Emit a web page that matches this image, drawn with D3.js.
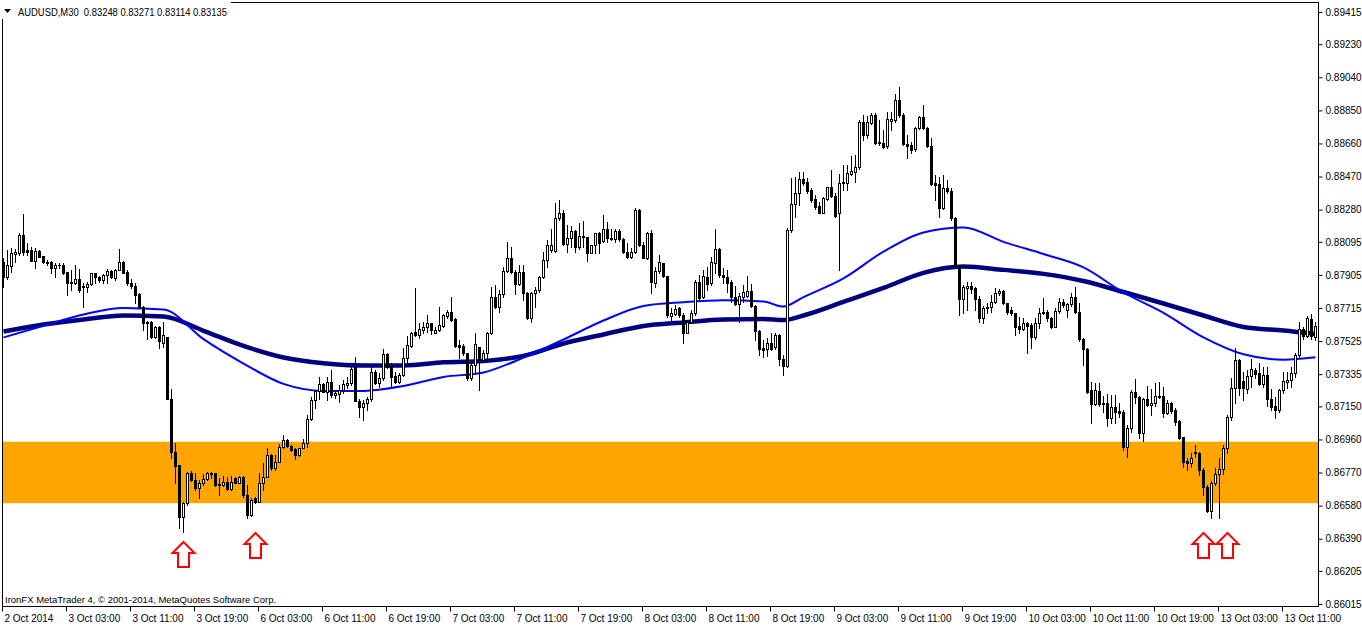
<!DOCTYPE html>
<html><head><meta charset="utf-8">
<script src="https://cdn.jsdelivr.net/npm/d3@7"></script>
<style>
html,body{margin:0;padding:0;background:#fff;}
svg{display:block;}
text{font-family:"Liberation Sans",Arial,sans-serif;fill:#000;}
</style></head><body>
<svg id="chart" width="1362" height="626"></svg>
<script>
const symbolTitle = "AUDUSD,M30  0.83248 0.83271 0.83114 0.83135";
const copyright = "IronFX MetaTrader 4, \u00A9 2001-2014, MetaQuotes Software Corp.";

const opens = [
0.87979,0.87894,0.87956,0.88025,0.88031,0.88134,0.88048,0.88048,0.87985,0.88042,
0.88014,0.87979,0.87979,0.87945,0.87962,0.87962,0.87922,0.87865,0.87859,0.87882,
0.87842,0.87836,0.87853,0.87917,0.87894,0.87876,0.87905,0.87928,0.87888,0.87934,
0.87979,0.87922,0.87859,0.87842,0.87796,0.87721,0.87635,0.87635,0.87548,0.87606,
0.87514,0.87548,0.87193,0.86888,0.86814,0.86515,0.86596,0.86768,0.86727,0.86681,
0.86710,0.86733,0.86768,0.86768,0.86704,0.86699,0.86716,0.86675,0.86739,0.86710,
0.86745,0.86641,0.86526,0.86624,0.86601,0.86710,0.86745,0.86871,0.86796,0.86831,
0.86917,0.86957,0.86923,0.86905,0.86871,0.86911,0.86940,0.87078,0.87187,0.87239,
0.87279,0.87233,0.87290,0.87215,0.87221,0.87244,0.87273,0.87285,0.87376,0.87181,
0.87147,0.87170,0.87193,0.87348,0.87285,0.87313,0.87451,0.87376,0.87325,0.87290,
0.87331,0.87428,0.87497,0.87577,0.87560,0.87589,0.87606,0.87629,0.87572,0.87589,
0.87612,0.87670,0.87692,0.87652,0.87502,0.87497,0.87457,0.87313,0.87388,0.87491,
0.87417,0.87457,0.87572,0.87778,0.87721,0.87796,0.87928,0.88002,0.87922,0.87853,
0.87922,0.87801,0.87658,0.87801,0.87819,0.87894,0.87991,0.88048,0.88042,0.88232,
0.88261,0.88083,0.88117,0.88157,0.88066,0.88129,0.88123,0.88031,0.88078,0.88146,
0.88100,0.88169,0.88117,0.88112,0.88157,0.88112,0.88037,0.88008,0.88037,0.88278,
0.88078,0.88002,0.88146,0.87859,0.87928,0.87974,0.87900,0.87670,0.87681,0.87715,
0.87675,0.87572,0.87635,0.87687,0.87865,0.87778,0.87894,0.87859,0.87974,0.88054,
0.87905,0.87894,0.87865,0.87778,0.87738,0.87778,0.87784,0.87813,0.87727,0.87583,
0.87485,0.87480,0.87514,0.87491,0.87560,0.87422,0.87382,0.88163,0.88313,0.88376,
0.88456,0.88439,0.88393,0.88341,0.88301,0.88261,0.88341,0.88409,0.88359,0.88261,
0.88433,0.88433,0.88485,0.88497,0.88525,0.88784,0.88710,0.88778,0.88824,0.88669,
0.88663,0.88646,0.88789,0.88795,0.88910,0.88824,0.88657,0.88651,0.88628,0.88749,
0.88812,0.88749,0.88646,0.88433,0.88427,0.88290,0.88404,0.88387,0.88232,0.87956,
0.87767,0.87830,0.87842,0.87830,0.87767,0.87658,0.87715,0.87721,0.87750,0.87801,
0.87813,0.87744,0.87704,0.87687,0.87612,0.87595,0.87629,0.87618,0.87548,0.87629,
0.87687,0.87692,0.87658,0.87606,0.87698,0.87750,0.87704,0.87738,0.87778,0.87692,
0.87537,0.87480,0.87244,0.87164,0.87239,0.87170,0.87170,0.87084,0.87147,0.87124,
0.87118,0.86917,0.87026,0.87233,0.87204,0.86997,0.87193,0.87158,0.87170,0.87209,
0.87209,0.87112,0.87170,0.87129,0.87066,0.86974,0.86837,0.86825,0.86888,0.86882,
0.86785,0.86687,0.86549,0.86710,0.86762,0.86790,0.86911,0.87090,0.87256,0.87417,
0.87296,0.87250,0.87325,0.87359,0.87342,0.87279,0.87331,0.87193,0.87152,0.87129,
0.87244,0.87290,0.87302,0.87342,0.87445,0.87595,0.87554,0.87652,0.87548];

const highs = [
0.88002,0.88048,0.88060,0.88054,0.88146,0.88255,0.88089,0.88066,0.88060,0.88048,
0.88014,0.87991,0.87985,0.87974,0.87974,0.87974,0.87922,0.87934,0.87962,0.87940,
0.87859,0.87865,0.87917,0.87917,0.87900,0.87911,0.87940,0.87934,0.87940,0.88054,
0.87985,0.87934,0.87882,0.87859,0.87801,0.87727,0.87640,0.87640,0.87612,0.87612,
0.87635,0.87548,0.87250,0.86940,0.86814,0.86601,0.86773,0.86779,0.86768,0.86727,
0.86762,0.86773,0.86773,0.86768,0.86739,0.86750,0.86745,0.86750,0.86745,0.86750,
0.86750,0.86699,0.86624,0.86630,0.86768,0.86825,0.86911,0.86877,0.86871,0.86934,
0.86986,0.86963,0.86928,0.86911,0.86911,0.86963,0.87101,0.87204,0.87244,0.87319,
0.87285,0.87319,0.87359,0.87244,0.87273,0.87302,0.87319,0.87376,0.87434,0.87193,
0.87187,0.87204,0.87376,0.87359,0.87342,0.87480,0.87457,0.87400,0.87348,0.87342,
0.87485,0.87554,0.87577,0.87830,0.87629,0.87635,0.87675,0.87629,0.87606,0.87721,
0.87681,0.87704,0.87778,0.87658,0.87531,0.87508,0.87457,0.87405,0.87572,0.87491,
0.87474,0.87577,0.87836,0.87847,0.87819,0.87951,0.88095,0.88066,0.87934,0.87962,
0.87962,0.87807,0.87807,0.87836,0.87900,0.88037,0.88106,0.88169,0.88318,0.88335,
0.88278,0.88192,0.88186,0.88163,0.88204,0.88215,0.88123,0.88078,0.88146,0.88152,
0.88249,0.88210,0.88169,0.88169,0.88169,0.88117,0.88089,0.88060,0.88290,0.88284,
0.88095,0.88152,0.88163,0.87951,0.88019,0.87974,0.87900,0.87715,0.87733,0.87721,
0.87687,0.87646,0.87704,0.87876,0.87905,0.87934,0.87951,0.88008,0.88169,0.88060,
0.87945,0.87934,0.87876,0.87842,0.87801,0.87847,0.87900,0.87853,0.87733,0.87589,
0.87531,0.87543,0.87572,0.87572,0.87566,0.87445,0.88175,0.88462,0.88468,0.88497,
0.88497,0.88462,0.88404,0.88365,0.88324,0.88353,0.88409,0.88508,0.88376,0.88485,
0.88537,0.88537,0.88588,0.88594,0.88795,0.88824,0.88818,0.88836,0.88836,0.88795,
0.88738,0.88841,0.88841,0.88945,0.88985,0.88836,0.88710,0.88669,0.88755,0.88818,
0.88881,0.88755,0.88691,0.88479,0.88468,0.88479,0.88451,0.88404,0.88238,0.87962,
0.87847,0.87865,0.87865,0.87836,0.87784,0.87727,0.87744,0.87790,0.87830,0.87825,
0.87819,0.87744,0.87721,0.87687,0.87664,0.87658,0.87635,0.87629,0.87658,0.87715,
0.87773,0.87704,0.87664,0.87715,0.87773,0.87767,0.87744,0.87801,0.87836,0.87744,
0.87543,0.87485,0.87290,0.87285,0.87285,0.87209,0.87221,0.87215,0.87215,0.87170,
0.87129,0.87043,0.87244,0.87308,0.87209,0.87198,0.87267,0.87250,0.87285,0.87290,
0.87262,0.87187,0.87175,0.87141,0.87072,0.86974,0.86854,0.86882,0.86928,0.86888,
0.86796,0.86699,0.86722,0.86796,0.86854,0.86928,0.87101,0.87313,0.87485,0.87422,
0.87348,0.87359,0.87422,0.87371,0.87400,0.87376,0.87376,0.87250,0.87204,0.87250,
0.87348,0.87348,0.87376,0.87457,0.87635,0.87606,0.87670,0.87681,0.87635];

const lows = [
0.87836,0.87882,0.87922,0.87979,0.88019,0.88019,0.88019,0.87985,0.87945,0.88008,
0.87974,0.87962,0.87917,0.87894,0.87945,0.87911,0.87790,0.87819,0.87853,0.87807,
0.87721,0.87807,0.87847,0.87859,0.87865,0.87859,0.87859,0.87888,0.87876,0.87934,
0.87917,0.87847,0.87830,0.87744,0.87721,0.87589,0.87537,0.87543,0.87543,0.87485,
0.87491,0.87193,0.86854,0.86710,0.86452,0.86429,0.86584,0.86722,0.86670,0.86624,
0.86699,0.86727,0.86739,0.86693,0.86641,0.86693,0.86670,0.86670,0.86710,0.86710,
0.86630,0.86509,0.86521,0.86596,0.86601,0.86670,0.86745,0.86785,0.86785,0.86831,
0.86911,0.86917,0.86894,0.86848,0.86865,0.86911,0.86917,0.87072,0.87141,0.87193,
0.87233,0.87187,0.87204,0.87198,0.87175,0.87227,0.87256,0.87273,0.87181,0.87090,
0.87072,0.87129,0.87181,0.87279,0.87262,0.87302,0.87371,0.87262,0.87285,0.87285,
0.87325,0.87405,0.87491,0.87554,0.87543,0.87572,0.87577,0.87566,0.87572,0.87583,
0.87606,0.87658,0.87640,0.87491,0.87428,0.87445,0.87302,0.87302,0.87348,0.87244,
0.87411,0.87417,0.87566,0.87715,0.87692,0.87778,0.87922,0.87917,0.87796,0.87847,
0.87761,0.87652,0.87635,0.87721,0.87807,0.87888,0.87951,0.88037,0.88037,0.88221,
0.88078,0.88037,0.88066,0.88037,0.88054,0.88066,0.87985,0.88031,0.88031,0.88031,
0.88095,0.88095,0.88106,0.88095,0.88100,0.88031,0.88002,0.88002,0.88031,0.88072,
0.88002,0.87997,0.87801,0.87836,0.87917,0.87894,0.87664,0.87646,0.87675,0.87664,
0.87514,0.87572,0.87629,0.87675,0.87761,0.87773,0.87819,0.87847,0.87917,0.87894,
0.87859,0.87807,0.87750,0.87733,0.87635,0.87750,0.87778,0.87721,0.87531,0.87445,
0.87434,0.87440,0.87474,0.87480,0.87388,0.87331,0.87376,0.88152,0.88238,0.88307,
0.88422,0.88376,0.88324,0.88284,0.88261,0.88261,0.88335,0.88353,0.88238,0.87934,
0.88393,0.88393,0.88479,0.88439,0.88514,0.88680,0.88691,0.88772,0.88657,0.88651,
0.88634,0.88634,0.88738,0.88784,0.88812,0.88651,0.88576,0.88606,0.88617,0.88744,
0.88744,0.88640,0.88422,0.88335,0.88238,0.88284,0.88376,0.88221,0.87945,0.87675,
0.87687,0.87704,0.87801,0.87704,0.87635,0.87629,0.87687,0.87692,0.87744,0.87790,
0.87738,0.87681,0.87675,0.87560,0.87572,0.87589,0.87457,0.87485,0.87537,0.87600,
0.87681,0.87640,0.87600,0.87606,0.87687,0.87721,0.87664,0.87727,0.87687,0.87525,
0.87388,0.87227,0.87054,0.87158,0.87152,0.87118,0.87037,0.87054,0.87054,0.87090,
0.86900,0.86859,0.87003,0.87170,0.86969,0.86951,0.87152,0.87101,0.87152,0.87198,
0.87090,0.87107,0.87112,0.87043,0.86963,0.86802,0.86785,0.86802,0.86859,0.86756,
0.86641,0.86543,0.86509,0.86699,0.86509,0.86762,0.86882,0.87072,0.87170,0.87215,
0.87187,0.87227,0.87262,0.87313,0.87273,0.87262,0.87152,0.87129,0.87084,0.87118,
0.87227,0.87256,0.87262,0.87319,0.87434,0.87537,0.87548,0.87537,0.87531];

const closes = [
0.87894,0.87962,0.88031,0.88037,0.88134,0.88037,0.88037,0.87985,0.88042,0.88008,
0.87979,0.87974,0.87945,0.87962,0.87960,0.87917,0.87859,0.87859,0.87882,0.87819,
0.87836,0.87853,0.87917,0.87894,0.87876,0.87905,0.87928,0.87894,0.87934,0.87979,
0.87917,0.87859,0.87842,0.87790,0.87721,0.87629,0.87629,0.87548,0.87606,0.87525,
0.87560,0.87193,0.86888,0.86808,0.86515,0.86596,0.86768,0.86727,0.86681,0.86710,
0.86733,0.86768,0.86762,0.86699,0.86699,0.86716,0.86675,0.86716,0.86710,0.86745,
0.86641,0.86526,0.86613,0.86601,0.86710,0.86745,0.86871,0.86796,0.86831,0.86917,
0.86957,0.86923,0.86900,0.86871,0.86911,0.86940,0.87078,0.87187,0.87239,0.87279,
0.87233,0.87290,0.87215,0.87227,0.87244,0.87279,0.87285,0.87365,0.87181,0.87147,
0.87170,0.87193,0.87348,0.87285,0.87313,0.87451,0.87376,0.87319,0.87290,0.87331,
0.87428,0.87502,0.87572,0.87560,0.87595,0.87606,0.87629,0.87589,0.87589,0.87618,
0.87675,0.87692,0.87646,0.87497,0.87491,0.87457,0.87313,0.87388,0.87508,0.87417,
0.87457,0.87572,0.87778,0.87721,0.87796,0.87928,0.88002,0.87922,0.87853,0.87922,
0.87801,0.87658,0.87801,0.87819,0.87894,0.87991,0.88078,0.88078,0.88232,0.88261,
0.88083,0.88117,0.88157,0.88066,0.88129,0.88123,0.88031,0.88078,0.88146,0.88089,
0.88169,0.88117,0.88112,0.88157,0.88112,0.88037,0.88008,0.88037,0.88278,0.88078,
0.88002,0.88146,0.87865,0.87928,0.87979,0.87900,0.87675,0.87687,0.87709,0.87675,
0.87572,0.87635,0.87687,0.87865,0.87773,0.87900,0.87853,0.87979,0.88054,0.87905,
0.87894,0.87859,0.87778,0.87738,0.87784,0.87807,0.87813,0.87727,0.87583,0.87480,
0.87474,0.87514,0.87480,0.87560,0.87422,0.87382,0.88163,0.88313,0.88376,0.88456,
0.88433,0.88387,0.88336,0.88296,0.88261,0.88347,0.88409,0.88359,0.88244,0.88433,
0.88439,0.88491,0.88502,0.88525,0.88784,0.88710,0.88784,0.88824,0.88663,0.88663,
0.88640,0.88801,0.88801,0.88910,0.88824,0.88657,0.88646,0.88623,0.88749,0.88812,
0.88749,0.88646,0.88427,0.88422,0.88290,0.88404,0.88387,0.88232,0.87956,0.87767,
0.87836,0.87842,0.87825,0.87767,0.87658,0.87715,0.87721,0.87750,0.87801,0.87813,
0.87744,0.87692,0.87687,0.87606,0.87595,0.87629,0.87612,0.87548,0.87629,0.87687,
0.87692,0.87658,0.87606,0.87698,0.87750,0.87733,0.87738,0.87778,0.87692,0.87537,
0.87480,0.87233,0.87164,0.87244,0.87164,0.87164,0.87084,0.87147,0.87118,0.87112,
0.86917,0.87026,0.87233,0.87204,0.86997,0.87193,0.87158,0.87170,0.87209,0.87204,
0.87112,0.87170,0.87124,0.87061,0.86969,0.86831,0.86825,0.86854,0.86882,0.86785,
0.86687,0.86549,0.86710,0.86762,0.86790,0.86911,0.87090,0.87256,0.87417,0.87256,
0.87256,0.87325,0.87365,0.87336,0.87279,0.87331,0.87193,0.87147,0.87129,0.87244,
0.87296,0.87302,0.87342,0.87445,0.87595,0.87554,0.87658,0.87554,0.87612];

// moving averages sampled at bar indices
const maBars = [0,10,20,30,40,50,60,70,80,90,100,110,120,130,140,150,160,170,180,190,195,200,210,220,230,240,250,260,270,280,290,300,310,320,328];
const maSlow = [0.87580,0.87620,0.87649,0.87672,0.87666,0.87584,0.87497,0.87431,0.87398,0.87385,0.87385,0.87403,0.87411,0.87440,0.87511,0.87563,0.87612,0.87632,0.87649,0.87652,0.87646,0.87672,0.87750,0.87830,0.87917,0.87953,0.87934,0.87911,0.87870,0.87807,0.87741,0.87672,0.87606,0.87586,0.87566];
const maFast = [0.87546,0.87613,0.87678,0.87715,0.87706,0.87536,0.87396,0.87279,0.87239,0.87239,0.87267,0.87319,0.87345,0.87430,0.87534,0.87643,0.87727,0.87748,0.87759,0.87752,0.87723,0.87778,0.87885,0.88039,0.88149,0.88178,0.88095,0.88025,0.87948,0.87804,0.87687,0.87546,0.87449,0.87418,0.87432];

// support zone (price range)
const zoneLow = 0.86594, zoneHigh = 0.86947;

// arrow markers
const arrowBars = [45, 63, 300, 306];
const arrowPrices = [0.86373, 0.86423, 0.86423, 0.86423];

// axis ticks
const yTickValues = [0.89415,0.89230,0.89040,0.88850,0.88660,0.88470,0.88280,0.88095,0.87905,0.87715,0.87525,0.87335,0.87150,0.86960,0.86770,0.86580,0.86390,0.86205,0.86015];
const xTickBars = [0,16,32,48,64,80,96,112,128,144,160,176,192,208,224,240,256,272,288,304,320];
const xTickLabels = ["2 Oct 2014","3 Oct 03:00","3 Oct 11:00","3 Oct 19:00","6 Oct 03:00","6 Oct 11:00","6 Oct 19:00","7 Oct 03:00","7 Oct 11:00","7 Oct 19:00","8 Oct 03:00","8 Oct 11:00","8 Oct 19:00","9 Oct 03:00","9 Oct 11:00","9 Oct 19:00","10 Oct 03:00","10 Oct 11:00","10 Oct 19:00","13 Oct 03:00","13 Oct 11:00"];

const plot = {left: 2, top: 2, right: 1318, bottom: 606};
const svg = d3.select('#chart');
const x = d3.scaleLinear().domain([0, 328]).range([3.5, 1315.5]);
const y = d3.scaleLinear().domain([0.86015, 0.89415]).range([604, 12]);

svg.append('rect').attr('width',1362).attr('height',626).attr('fill','#fff');

svg.append('defs').append('clipPath').attr('id','plotClip')
  .append('rect').attr('x',plot.left).attr('y',plot.top)
  .attr('width',plot.right-plot.left).attr('height',plot.bottom-plot.top);
const g = svg.append('g').attr('clip-path','url(#plotClip)');

// zone
g.append('rect').attr('x',plot.left).attr('width',plot.right-plot.left)
  .attr('y',y(zoneHigh)).attr('height',y(zoneLow)-y(zoneHigh)).attr('fill','#FFA500');

// moving averages
const maLine = d3.line().x((d,i)=>x(maBars[i])).y(d=>y(d)).curve(d3.curveMonotoneX);
g.append('path').attr('d',maLine(maSlow)).attr('fill','none').attr('stroke','#000080').attr('stroke-width',4.5);
g.append('path').attr('d',maLine(maFast)).attr('fill','none').attr('stroke','#0000FF').attr('stroke-width',2);

// candles
const bars = d3.range(opens.length).map(i=>({i,o:opens[i],h:highs[i],l:lows[i],c:closes[i]}));
const cg = g.append('g');
cg.selectAll('line.wick').data(bars).join('line').attr('class','wick')
  .attr('x1',d=>Math.floor(x(d.i))+0.5).attr('x2',d=>Math.floor(x(d.i))+0.5)
  .attr('y1',d=>Math.round(y(d.h))).attr('y2',d=>Math.round(y(d.l))+1)
  .attr('stroke','#000').attr('stroke-width',1);
const bodyTop = d=>Math.round(y(Math.max(d.o,d.c)));
const bodyBot = d=>Math.round(y(Math.min(d.o,d.c)));
cg.selectAll('rect.bear').data(bars.filter(d=>d.c<=d.o)).join('rect').attr('class','bear')
  .attr('x',d=>Math.floor(x(d.i))-1).attr('width',3)
  .attr('y',d=>bodyTop(d)).attr('height',d=>Math.max(1,bodyBot(d)-bodyTop(d)+1))
  .attr('fill','#000');
cg.selectAll('rect.bull').data(bars.filter(d=>d.c>d.o)).join('rect').attr('class','bull')
  .attr('x',d=>Math.floor(x(d.i))-0.5).attr('width',2)
  .attr('y',d=>bodyTop(d)+0.5).attr('height',d=>Math.max(1,bodyBot(d)-bodyTop(d)))
  .attr('fill','#fff').attr('stroke','#000').attr('stroke-width',1);

// arrows
const arrowPath = "M0,0 L11,11 L5.5,11 L5.5,25 L-5.5,25 L-5.5,11 L-11,11 Z";
svg.selectAll('path.arrow').data(arrowBars.map((b,i)=>({b,p:arrowPrices[i]}))).join('path')
  .attr('class','arrow')
  .attr('transform',d=>`translate(${Math.floor(x(d.b))+0.5},${Math.round(y(d.p))})`)
  .attr('d',arrowPath).attr('fill','#fff').attr('stroke','#FF0000').attr('stroke-width',2)
  .attr('stroke-linejoin','miter');

// frame
svg.append('rect').attr('x',plot.left+0.5).attr('y',plot.top+0.5)
  .attr('width',plot.right-plot.left).attr('height',plot.bottom-plot.top)
  .attr('fill','none').attr('stroke','#000').attr('stroke-width',1);

// y axis
const yAxis = d3.axisRight(y).tickValues(yTickValues).tickFormat(d3.format('.5f')).tickSize(4).tickPadding(3);
const ya = svg.append('g').attr('transform',`translate(${plot.right+0.5},0)`).call(yAxis);
ya.select('.domain').remove();
ya.selectAll('text').attr('font-family','"Liberation Sans",Arial,sans-serif').attr('font-size',10).attr('fill','#000');
ya.selectAll('line').attr('stroke','#000');

// x axis
const xAxis = d3.axisBottom(x).tickValues(xTickBars).tickFormat((d,i)=>xTickLabels[i]).tickSize(5).tickPadding(3);
const xa = svg.append('g').attr('transform',`translate(-1.5,${plot.bottom+0.5})`).call(xAxis);
xa.select('.domain').remove();
xa.selectAll('text').attr('text-anchor','start').attr('x',2)
  .attr('font-family','"Liberation Sans",Arial,sans-serif').attr('font-size',10).attr('fill','#000');
xa.selectAll('line').attr('stroke','#000');

// title
const titleG = svg.append('g');
const tBg = titleG.append('rect').attr('x',0).attr('y',0).attr('height',19).attr('fill','#fff');
titleG.append('path').attr('d','M4,9 L11,9 L7.5,13 Z').attr('fill','#000');
const tText = titleG.append('text').attr('x',18).attr('y',16).attr('font-size',10)
  .attr('xml:space','preserve').attr('textLength',209).attr('lengthAdjust','spacingAndGlyphs').text(symbolTitle);
tBg.attr('width', 18 + 209 + 4);

// copyright
svg.append('text').attr('x',5).attr('y',603).attr('font-size',9.5).text(copyright);
</script>
</body></html>
